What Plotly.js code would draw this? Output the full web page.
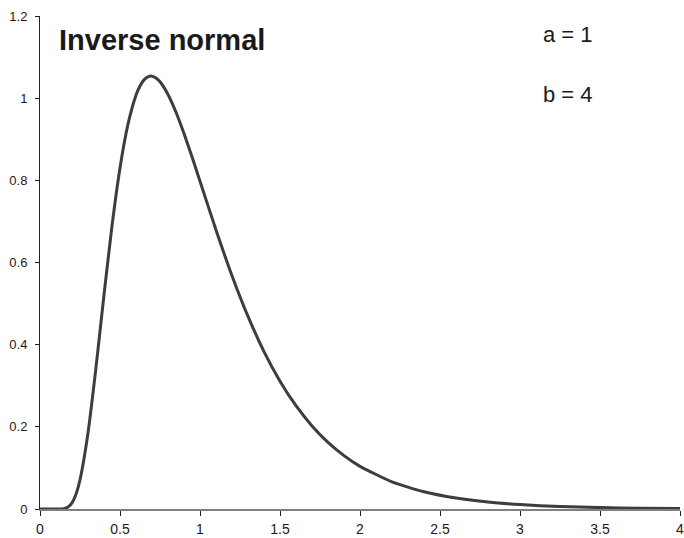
<!DOCTYPE html>
<html>
<head>
<meta charset="utf-8">
<script src="https://cdn.plot.ly/plotly-3.0.1.min.js"></script>
<style>
    body { margin: 0; padding: 0; background: #fff; }
    #chart { width: 684px; height: 538px; }
</style>
</head>
<body>
<div id="chart"></div>
<script>
// values (a = 1, b = 4)
var xValues = [0, 0.05, 0.1, 0.15, 0.175, 0.2, 0.225, 0.25, 0.3, 0.35, 0.4, 0.45, 0.5,
    0.55, 0.6, 0.625, 0.65, 0.675, 0.7, 0.725, 0.75, 0.8, 0.85, 0.9, 0.95, 1.0, 1.1, 1.2, 1.3, 1.4, 1.5,
    1.6, 1.7, 1.8, 1.9, 2.0, 2.2, 2.4, 2.6, 2.8, 3.0, 3.25, 3.5, 3.75, 4.0];
var yValues = [0, 0, 0, 0.0009, 0.0046, 0.0148, 0.0359, 0.0709, 0.1851, 0.3446, 0.5213, 0.689, 0.8302,
    0.9367, 1.0071, 1.0296, 1.0445, 1.0521, 1.0535, 1.0491, 1.0398, 1.009, 0.9657, 0.914, 0.8572, 0.7979, 0.6791, 0.5678, 0.4687, 0.3832, 0.3112,
    0.2514, 0.2023, 0.1623, 0.1299, 0.1038, 0.066, 0.0419, 0.0266, 0.0168, 0.0107, 0.006, 0.0034, 0.002, 0.0011];

var xTicks = [0, 0.5, 1, 1.5, 2, 2.5, 3, 3.5, 4];
var yTicks = [0, 0.2, 0.4, 0.6, 0.8, 1, 1.2];

var titleText = 'Inverse normal';
var paramLabels = ['a = 1', 'b = 4'];

var fontFamily = 'Liberation Sans, Arial, Helvetica, sans-serif';

var curve = {
    x: xValues,
    y: yValues,
    type: 'scatter',
    mode: 'lines',
    line: {color: '#3d3d3d', width: 3, shape: 'spline', smoothing: 0.5},
    hoverinfo: 'skip'
};

var layout = {
    width: 684,
    height: 538,
    margin: {l: 40, r: 4, t: 16, b: 29},
    paper_bgcolor: '#ffffff',
    plot_bgcolor: '#ffffff',
    showlegend: false,
    font: {family: fontFamily, color: '#1a1a1a', size: 13},
    xaxis: {
        range: [0, 4],
        tickvals: xTicks,
        ticktext: xTicks.map(String),
        ticks: 'outside',
        ticklen: 5,
        tickcolor: '#222',
        tickwidth: 1,
        ticklabelstandoff: 1,
        ticklabeloverflow: 'allow',
        showline: true,
        linecolor: '#808080',
        linewidth: 2,
        showgrid: false,
        zeroline: false,
        tickfont: {size: 14}
    },
    yaxis: {
        range: [0, 1.2],
        tickvals: yTicks,
        ticktext: yTicks.map(String),
        ticks: 'outside',
        ticklen: 4,
        tickcolor: '#222',
        tickwidth: 1,
        ticklabelstandoff: 5,
        ticklabeloverflow: 'allow',
        showline: true,
        linecolor: '#222',
        linewidth: 1,
        showgrid: false,
        zeroline: false,
        tickfont: {size: 13}
    },
    annotations: [
        {
            text: '<b>' + titleText + '</b>',
            xref: 'paper', yref: 'paper',
            x: 0.0266, y: 0.9507,
            xanchor: 'left', yanchor: 'middle',
            showarrow: false,
            font: {size: 29, color: '#1a1a1a'}
        },
        {
            text: paramLabels[0],
            xref: 'paper', yref: 'paper',
            x: 0.8255, y: 0.9619,
            xanchor: 'center', yanchor: 'middle',
            showarrow: false,
            font: {size: 22, color: '#1a1a1a'}
        },
        {
            text: paramLabels[1],
            xref: 'paper', yref: 'paper',
            x: 0.8255, y: 0.8414,
            xanchor: 'center', yanchor: 'middle',
            showarrow: false,
            font: {size: 22, color: '#1a1a1a'}
        }
    ]
};

Plotly.newPlot('chart', [curve], layout, {displayModeBar: false, staticPlot: true});
</script>
</body>
</html>
